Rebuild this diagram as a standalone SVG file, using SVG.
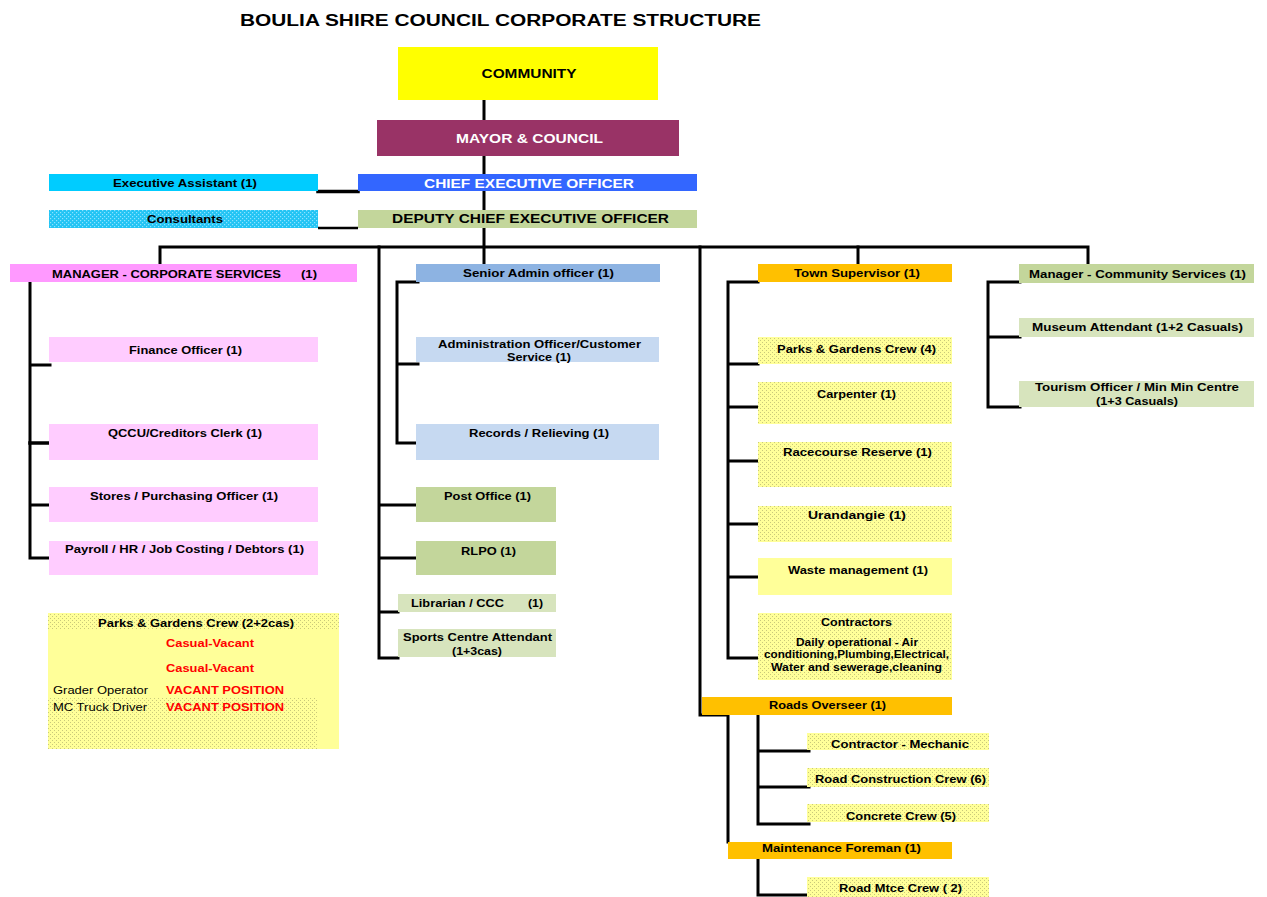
<svg xmlns="http://www.w3.org/2000/svg" width="1267" height="897" viewBox="0 0 1267 897">
<defs>
<pattern id="ydots" width="4" height="4" patternUnits="userSpaceOnUse">
<rect width="4" height="4" fill="#FFFF99"/>
<rect x="0" y="0" width="1" height="1" fill="#C9C97A"/>
<rect x="2" y="2" width="1" height="1" fill="#C9C97A"/>
</pattern>
<pattern id="cdots" width="4" height="4" patternUnits="userSpaceOnUse">
<rect width="4" height="4" fill="#22C4F4"/>
<rect x="0" y="0" width="1.2" height="1.2" fill="#8EE2FF"/>
<rect x="2" y="2" width="1.2" height="1.2" fill="#8EE2FF"/>
</pattern>
<style>
text{font-family:"Liberation Sans",Arial,sans-serif;font-weight:bold;font-size:10px;fill:#000;}
.c{text-anchor:middle;}
.big{font-size:12px;}
.w{fill:#fff;}
.r{fill:#FF0000;}
.n{font-weight:normal;}
.ln{fill:none;stroke:#000;stroke-width:3;stroke-linecap:square;stroke-linejoin:miter;}
.ln2{fill:none;stroke:#000;stroke-width:2.5;}
</style>
</defs>
<rect width="1267" height="897" fill="#fff"/>
<text id="title" x="240" y="26" style="font-size:16px" textLength="521" lengthAdjust="spacingAndGlyphs">BOULIA SHIRE COUNCIL CORPORATE STRUCTURE</text>

<g id="connectors">
<path class="ln" d="M484,100V120M484,156V174M484,191V210M484,228V264"/>
<path class="ln" d="M160,264V247H1088V264"/>
<path class="ln" d="M858,247V264"/>
<path class="ln" d="M379,247V658H398M379,505H416M379,558H416M379,612H398"/>
<path class="ln" d="M700,247V715H728V842"/>
<path class="ln" d="M318,191.5H358" style="stroke-width:3.5"/>
<path class="ln2" d="M318,228H358"/>
<path class="ln" d="M30,282V558H50M30,365H50M30,505H50"/>
<path class="ln" d="M30,443H50" style="stroke-width:3.5"/>
<path class="ln" d="M418,282H397V443H418M397,364H418"/>
<path class="ln" d="M758,282H728V658H758M728,364H758M728,407H758M728,461H758M728,524H758M728,577H758"/>
<path class="ln" d="M1020,282H988V407H1020M988,337H1020"/>
<path class="ln" d="M758,714V824H809M758,751H809M758,787H809"/>
<path class="ln" d="M758,859V895H809"/>
</g>

<g id="community"><rect x="398" y="47" width="260" height="53" fill="#FFFF00"/><text class="c big" x="529" y="78" textLength="95" lengthAdjust="spacingAndGlyphs">COMMUNITY</text></g>
<g id="mayor"><rect x="377" y="120" width="302" height="36" fill="#993366"/><text class="c big w" x="529.5" y="142.5" textLength="147" lengthAdjust="spacingAndGlyphs">MAYOR &amp; COUNCIL</text></g>
<g id="exec-assistant"><rect x="49" y="174" width="269" height="17" fill="#00CCFF"/><text class="c" x="185" y="187" textLength="144" lengthAdjust="spacingAndGlyphs">Executive Assistant  (1)</text></g>
<g id="ceo"><rect x="358" y="174" width="339" height="17" fill="#3366FF"/><text class="c big w" x="529" y="188" textLength="210" lengthAdjust="spacingAndGlyphs">CHIEF EXECUTIVE OFFICER</text></g>
<g id="consultants"><rect x="49" y="210" width="269" height="18" fill="url(#cdots)"/><text class="c" x="185" y="223" textLength="76" lengthAdjust="spacingAndGlyphs">Consultants</text></g>
<g id="dceo"><rect x="358" y="210" width="339" height="18" fill="#C3D69B"/><text class="c big" x="530.5" y="223" textLength="277" lengthAdjust="spacingAndGlyphs">DEPUTY CHIEF EXECUTIVE OFFICER</text></g>

<g id="mgr-corporate"><rect x="10" y="264" width="347" height="18" fill="#FF99FF"/><text x="52" y="278" textLength="229" lengthAdjust="spacingAndGlyphs">MANAGER - CORPORATE SERVICES</text><text x="301" y="278" textLength="16" lengthAdjust="spacingAndGlyphs">(1)</text></g>
<g id="finance"><rect x="49" y="337" width="269" height="25" fill="#FFCCFF"/><text class="c" x="185.5" y="354" textLength="113" lengthAdjust="spacingAndGlyphs">Finance Officer (1)</text></g>
<g id="qccu"><rect x="49" y="424" width="269" height="36" fill="#FFCCFF"/><text class="c" x="185" y="437" textLength="154" lengthAdjust="spacingAndGlyphs">QCCU/Creditors Clerk (1)</text></g>
<g id="stores"><rect x="49" y="487" width="269" height="35" fill="#FFCCFF"/><text class="c" x="184" y="500" textLength="188" lengthAdjust="spacingAndGlyphs">Stores / Purchasing Officer (1)</text></g>
<g id="payroll"><rect x="49" y="541" width="269" height="34" fill="#FFCCFF"/><text class="c" x="184.5" y="553" textLength="239" lengthAdjust="spacingAndGlyphs">Payroll / HR / Job Costing / Debtors (1)</text></g>

<g id="parks-left">
<rect x="48" y="613" width="291" height="136" fill="#FFFF99"/>
<rect x="48" y="613" width="291" height="17" fill="url(#ydots)"/>
<rect x="48" y="697" width="269" height="52" fill="url(#ydots)"/>
<text class="c" x="196" y="627" textLength="196" lengthAdjust="spacingAndGlyphs">Parks &amp; Gardens Crew (2+2cas)</text>
<text class="r" x="166" y="647" textLength="88" lengthAdjust="spacingAndGlyphs">Casual-Vacant</text>
<text class="r" x="166" y="672" textLength="88" lengthAdjust="spacingAndGlyphs">Casual-Vacant</text>
<text class="n" x="53" y="694" textLength="95" lengthAdjust="spacingAndGlyphs">Grader Operator</text>
<text class="r" x="166" y="694" textLength="118" lengthAdjust="spacingAndGlyphs">VACANT POSITION</text>
<text class="n" x="53" y="711" textLength="94" lengthAdjust="spacingAndGlyphs">MC Truck Driver</text>
<text class="r" x="166" y="711" textLength="118" lengthAdjust="spacingAndGlyphs">VACANT POSITION</text>
</g>

<g id="senior-admin"><rect x="416" y="264" width="244" height="18" fill="#8DB3E2"/><text class="c" x="538.5" y="277" textLength="151" lengthAdjust="spacingAndGlyphs">Senior Admin officer  (1)</text></g>
<g id="admin-officer"><rect x="416" y="337" width="243" height="25" fill="#C6D9F1"/><text class="c" x="539.5" y="348" textLength="203" lengthAdjust="spacingAndGlyphs">Administration Officer/Customer</text><text class="c" x="539" y="361" textLength="64" lengthAdjust="spacingAndGlyphs">Service (1)</text></g>
<g id="records"><rect x="416" y="424" width="243" height="36" fill="#C6D9F1"/><text class="c" x="539" y="437" textLength="140" lengthAdjust="spacingAndGlyphs">Records / Relieving (1)</text></g>
<g id="post-office"><rect x="416" y="487" width="140" height="35" fill="#C3D69B"/><text class="c" x="487.5" y="500" textLength="87" lengthAdjust="spacingAndGlyphs">Post Office (1)</text></g>
<g id="rlpo"><rect x="416" y="541" width="140" height="34" fill="#C3D69B"/><text class="c" x="488.5" y="555" textLength="55" lengthAdjust="spacingAndGlyphs">RLPO (1)</text></g>
<g id="librarian"><rect x="398" y="594" width="158" height="18" fill="#D7E4BD"/><text x="411" y="607" textLength="93" lengthAdjust="spacingAndGlyphs">Librarian / CCC</text><text x="528" y="607" textLength="15" lengthAdjust="spacingAndGlyphs">(1)</text></g>
<g id="sports"><rect x="398" y="629" width="158" height="28" fill="#D7E4BD"/><text class="c" x="477.5" y="641" textLength="149" lengthAdjust="spacingAndGlyphs">Sports Centre Attendant</text><text class="c" x="477" y="655" textLength="50" lengthAdjust="spacingAndGlyphs">(1+3cas)</text></g>

<g id="town-supervisor"><rect x="758" y="264" width="194" height="18" fill="#FFC000"/><text class="c" x="857" y="277" textLength="126" lengthAdjust="spacingAndGlyphs">Town Supervisor (1)</text></g>
<g id="parks-crew"><rect x="758" y="337" width="194" height="27" fill="url(#ydots)"/><text class="c" x="856.5" y="353" textLength="159" lengthAdjust="spacingAndGlyphs">Parks &amp; Gardens Crew (4)</text></g>
<g id="carpenter"><rect x="758" y="382" width="194" height="42" fill="url(#ydots)"/><text class="c" x="856.5" y="398" textLength="79" lengthAdjust="spacingAndGlyphs">Carpenter (1)</text></g>
<g id="racecourse"><rect x="758" y="442" width="194" height="45" fill="url(#ydots)"/><text class="c" x="857.5" y="456" textLength="149" lengthAdjust="spacingAndGlyphs">Racecourse Reserve  (1)</text></g>
<g id="urandangie"><rect x="758" y="506" width="194" height="36" fill="url(#ydots)"/><text class="c" x="857" y="519" textLength="98" lengthAdjust="spacingAndGlyphs">Urandangie   (1)</text></g>
<g id="waste"><rect x="758" y="558" width="194" height="37" fill="#FFFF99"/><text class="c" x="858" y="574" textLength="140" lengthAdjust="spacingAndGlyphs">Waste management (1)</text></g>
<g id="contractors"><rect x="758" y="613" width="194" height="67" fill="url(#ydots)"/>
<text class="c" x="856.5" y="626" textLength="71" lengthAdjust="spacingAndGlyphs">Contractors</text>
<text class="c" x="857" y="646" textLength="122" lengthAdjust="spacingAndGlyphs">Daily operational - Air</text>
<text class="c" x="856.5" y="658" textLength="185" lengthAdjust="spacingAndGlyphs">conditioning,Plumbing,Electrical,</text>
<text class="c" x="856.5" y="671" textLength="171" lengthAdjust="spacingAndGlyphs">Water and sewerage,cleaning</text></g>

<g id="roads-overseer"><rect x="702" y="697" width="250" height="18" fill="#FFC000"/><text class="c" x="827.5" y="709" textLength="117" lengthAdjust="spacingAndGlyphs">Roads Overseer (1)</text></g>
<g id="contractor-mechanic"><rect x="807" y="733" width="182" height="17" fill="url(#ydots)"/><text class="c" x="900" y="748" textLength="138" lengthAdjust="spacingAndGlyphs">Contractor - Mechanic</text></g>
<g id="road-construction"><rect x="807" y="768" width="182" height="19" fill="url(#ydots)"/><text class="c" x="900.5" y="783" textLength="171" lengthAdjust="spacingAndGlyphs">Road Construction Crew (6)</text></g>
<g id="concrete"><rect x="807" y="804" width="182" height="18" fill="url(#ydots)"/><text class="c" x="901" y="820" textLength="110" lengthAdjust="spacingAndGlyphs">Concrete Crew (5)</text></g>
<g id="maintenance-foreman"><rect x="728" y="842" width="224" height="17" fill="#FFC000"/><text class="c" x="841.5" y="852" textLength="159" lengthAdjust="spacingAndGlyphs">Maintenance Foreman  (1)</text></g>
<g id="road-mtce"><rect x="807" y="877" width="182" height="20" fill="url(#ydots)"/><text class="c" x="900.5" y="892" textLength="123" lengthAdjust="spacingAndGlyphs">Road Mtce Crew ( 2)</text></g>

<g id="mgr-community"><rect x="1019" y="264" width="235" height="19" fill="#C3D69B"/><text class="c" x="1137.5" y="278" textLength="217" lengthAdjust="spacingAndGlyphs">Manager -  Community Services (1)</text></g>
<g id="museum"><rect x="1019" y="318" width="235" height="19" fill="#D7E4BD"/><text class="c" x="1137.5" y="331" textLength="211" lengthAdjust="spacingAndGlyphs">Museum Attendant  (1+2 Casuals)</text></g>
<g id="tourism"><rect x="1019" y="381" width="235" height="26" fill="#D7E4BD"/><text class="c" x="1137" y="391" textLength="204" lengthAdjust="spacingAndGlyphs">Tourism Officer / Min Min Centre</text><text class="c" x="1137" y="405" textLength="82" lengthAdjust="spacingAndGlyphs">(1+3 Casuals)</text></g>
</svg>
